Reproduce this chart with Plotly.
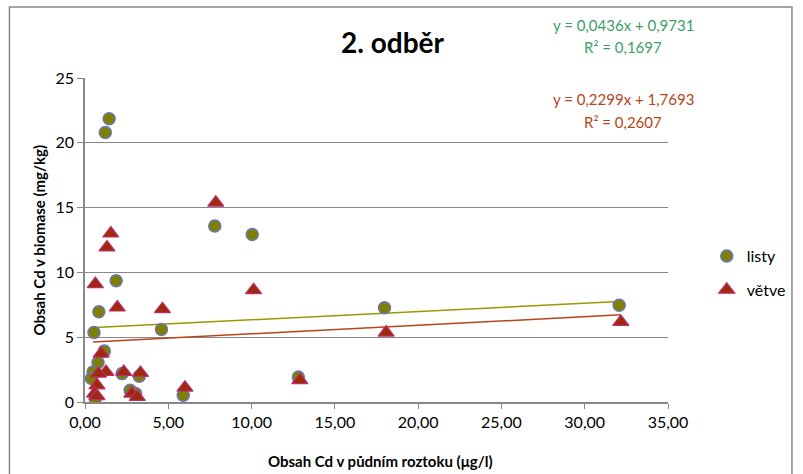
import numpy as np
import plotly.graph_objects as go

# ---- data ----
listy_x = [1.45, 1.22, 1.87, 0.83, 4.59, 0.54, 1.16, 0.78, 0.48, 0.39, 2.23, 3.26,
           2.71, 3.04, 0.62, 5.90, 7.79, 10.04, 17.98, 12.81, 32.07]
listy_y = [21.85, 20.80, 9.35, 6.96, 5.59, 5.36, 3.94, 3.04, 2.32, 1.81, 2.19, 1.99,
           0.90, 0.65, 0.26, 0.52, 13.58, 12.93, 7.27, 1.93, 7.47]

vetve_x = [1.55, 1.32, 0.62, 1.94, 4.65, 0.97, 1.26, 0.81, 2.33, 3.33, 0.72, 2.81,
           3.14, 0.58, 0.72, 6.00, 7.85, 10.12, 18.08, 12.90, 32.17]
vetve_y = [13.00, 11.93, 9.10, 7.29, 7.16, 3.74, 2.32, 2.19, 2.32, 2.24, 1.29, 0.65,
           0.39, 0.65, 0.45, 1.11, 15.38, 8.63, 5.36, 1.68, 6.18]

# trend lines as drawn in the picture (slope, intercept, x start)
listy_trend = [0.0635, 5.71, 0.29]
vetve_trend = [0.066, 4.60, 0.48]

series_names = ["listy", "větve"]
eq_listy = ["y = 0,0436x + 0,9731", "R² = 0,1697"]
eq_vetve = ["y = 0,2299x + 1,7693", "R² = 0,2607"]
title_text = "2. odběr"
x_title = "Obsah Cd v půdním roztoku (μg/l)"
y_title = "Obsah Cd v biomase (mg/kg)"

FONT = "Lato"
W, H = 803, 474
L, R, T, B = 85, 687, 78, 402


def px(xp):
    return (xp - L) / (R - L)


def py(yp):
    return (B - yp) / (B - T)


fig = go.Figure()

# trend lines
for xs, coef, col in [(listy_x, listy_trend, "#999900"), (vetve_x, vetve_trend, "#b8441a")]:
    tx = np.array([coef[2], max(xs)])
    fig.add_trace(go.Scatter(x=tx, y=coef[0] * tx + coef[1], mode="lines",
                             line=dict(color=col, width=1.5), showlegend=False,
                             hoverinfo="skip"))

fig.add_trace(go.Scatter(
    x=listy_x, y=listy_y, mode="markers", name=series_names[0], legendgroup="a",
    marker=dict(symbol="circle", size=12, color="#808000",
                line=dict(color="#6a76b6", width=1.5))))
fig.add_trace(go.Scatter(
    x=vetve_x, y=vetve_y, mode="markers", name=series_names[1], legendgroup="b",
    marker=dict(symbol="triangle-up", size=14, color="#a0280c",
                line=dict(color="#b8306a", width=1.2))))

ann = []
ann.append(dict(text="<b>" + title_text + "</b>", x=px(403), y=py(42), xref="paper", yref="paper",
                showarrow=False, font=dict(family=FONT, size=28, color="black"),
                xanchor="center", yanchor="middle"))
for t, yy in zip(eq_listy, [25, 46.7]):
    ann.append(dict(text=t, x=px(641), y=py(yy), xref="paper", yref="paper", showarrow=False,
                    font=dict(family=FONT, size=15, color="#3c9f68"),
                    xanchor="center", yanchor="middle"))
for t, yy in zip(eq_vetve, [99.3, 121.7]):
    ann.append(dict(text=t, x=px(641), y=py(yy), xref="paper", yref="paper", showarrow=False,
                    font=dict(family=FONT, size=15, color="#b5461a"),
                    xanchor="center", yanchor="middle"))
ann.append(dict(text="<b>" + x_title + "</b>", x=px(390), y=py(461), xref="paper", yref="paper",
                showarrow=False, font=dict(family=FONT, size=15, color="black"),
                xanchor="center", yanchor="middle"))
ann.append(dict(text="<b>" + y_title + "</b>", x=px(38), y=py(240), xref="paper", yref="paper",
                showarrow=False, textangle=-90, font=dict(family=FONT, size=15, color="black"),
                xanchor="center", yanchor="middle"))

fig.update_layout(
    width=W, height=H,
    margin=dict(l=L, r=W - R, t=T, b=H - B, pad=0),
    paper_bgcolor="white", plot_bgcolor="white",
    separators=",.",
    font=dict(family=FONT, size=16, color="black"),
    showlegend=True,
    legend=dict(x=px(727), y=py(273), xanchor="left", yanchor="middle",
                font=dict(family=FONT, size=16, color="black"),
                tracegroupgap=10, bgcolor="rgba(0,0,0,0)", itemwidth=30),
    annotations=ann,
    shapes=[dict(type="rect", xref="paper", yref="paper",
                 x0=px(7), x1=px(815), y0=py(490), y1=py(7),
                 line=dict(color="#888888", width=1.5), layer="below")],
)

fig.update_xaxes(range=[0, 35], dtick=5, tick0=0, tickformat=".2f",
                 showgrid=False, zeroline=False, showline=True, linecolor="#888888",
                 linewidth=1.5, ticks="outside", ticklen=5, tickcolor="#888888",
                 tickfont=dict(family=FONT, size=16, color="black"))
fig.update_yaxes(range=[0, 25], dtick=5, tick0=0,
                 showgrid=True, gridcolor="#888888", gridwidth=1.2, zeroline=False,
                 showline=True, linecolor="#888888", linewidth=1.5,
                 ticks="outside", ticklen=6, tickcolor="#888888",
                 tickfont=dict(family=FONT, size=16, color="black"))

fig.write_html("out.html", config={"displayModeBar": False},
               post_script="document.body.style.margin='0';document.body.style.overflow='hidden';")
